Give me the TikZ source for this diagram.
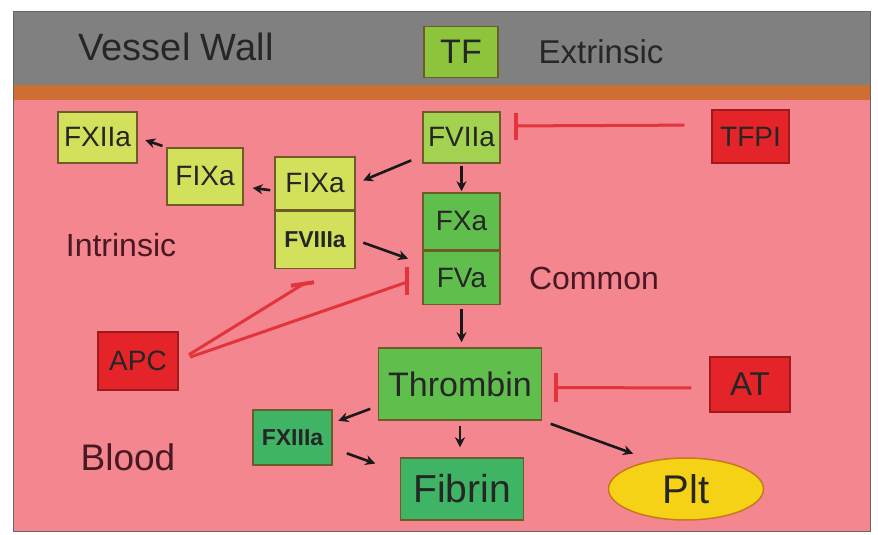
\documentclass[tikz,border=0pt]{standalone}
\usepackage{fontspec}
\setmainfont{Liberation Sans}
\usepackage{tikz}
\usetikzlibrary{arrows.meta,calc,positioning,shapes.geometric}

\definecolor{wallgray}{RGB}{128,128,128}
\definecolor{wallorange}{RGB}{206,110,50}
\definecolor{bloodpink}{RGB}{243,134,143}
\definecolor{paleyg}{RGB}{210,224,92}
\definecolor{lightgr}{RGB}{162,210,80}
\definecolor{tfgreen}{RGB}{140,196,60}
\definecolor{midgreen}{RGB}{96,190,76}
\definecolor{seagr}{RGB}{62,180,100}
\definecolor{inhred}{RGB}{228,36,40}
\definecolor{barred}{RGB}{226,52,58}
\definecolor{pltyellow}{RGB}{246,210,22}
\definecolor{pltedge}{RGB}{200,120,30}
\definecolor{boxedge}{RGB}{110,92,40}
\definecolor{maroon}{RGB}{74,24,34}

\tikzset{
  factor/.style={draw=boxedge, line width=1.5pt, inner sep=0pt, text=black!85,
    minimum width=78pt, minimum height=52pt, font=\fontsize{28}{30}\selectfont},
  smallbold/.style={font=\bfseries\fontsize{23}{25}\selectfont},
  inhibitor/.style={factor, fill=inhred, draw=inhred!70!black},
  region/.style={text=maroon, font=\fontsize{32}{34}\selectfont},
  act/.style={-{Stealth[length=10pt,width=10pt]}, line width=2.6pt, black!90},
  inhib/.style={draw=barred, line width=3pt},
  inhibbar/.style={draw=barred, line width=4pt}
}

\begin{document}
\begin{tikzpicture}[x=1pt,y=-1pt]
  \useasboundingbox (0,0) rectangle (878,535);
  % vessel wall and blood
  \fill[wallgray] (13,12) rectangle (870,85);
  \fill[wallorange] (13,85) rectangle (870,100);
  \fill[bloodpink] (13,100) rectangle (870,531);
  \draw[black!60, line width=1pt] (13,12) rectangle (870,531);

  % labels
  \node[text=black!85, font=\fontsize{38}{40}\selectfont] (wall) at (176,47) {Vessel Wall};
  \node[text=black!85, font=\fontsize{33}{35}\selectfont] (extr) at (601,52) {Extrinsic};
  \node[region] (intr) at (121,245) {Intrinsic};
  \node[region] (comm) at (594,278) {Common};
  \node[region, font=\fontsize{37}{39}\selectfont] (blood) at (128,457) {Blood};

  % factors
  \node[factor, fill=tfgreen, minimum width=74pt, minimum height=51pt,
    font=\fontsize{34}{36}\selectfont] (tf) at (461,52) {TF};
  \node[factor, fill=paleyg, minimum width=79pt, minimum height=51pt] (fxiia) at (97.5,137.5) {FXIIa};
  \node[factor, fill=paleyg, minimum width=76pt, minimum height=57pt] (fixa1) at (205,176.5) {FIXa};
  \node[factor, fill=paleyg, minimum width=80pt, minimum height=53pt] (fixa2) at (315,183.5) {FIXa};
  \node[factor, fill=paleyg, smallbold, minimum width=80pt, minimum height=57pt,
    below=0pt of fixa2] (fviiia) {FVIIIa};
  \node[factor, fill=lightgr, minimum width=77pt, minimum height=51pt] (fviia) at (461.5,137.5) {FVIIa};
  \node[factor, fill=midgreen, minimum width=77pt, minimum height=57pt] (fxa) at (461.5,221.5) {FXa};
  \node[factor, fill=midgreen, minimum width=77pt, minimum height=53pt,
    below=0pt of fxa] (fva) {FVa};
  \node[factor, fill=midgreen, minimum width=163pt, minimum height=72pt,
    font=\fontsize{34}{36}\selectfont] (thrombin) at (460,384) {Thrombin};
  \node[factor, fill=seagr, smallbold, minimum width=79pt, minimum height=55pt] (fxiiia) at (292.5,437.5) {FXIIIa};
  \node[factor, fill=seagr, minimum width=123pt, minimum height=62pt,
    font=\fontsize{39}{41}\selectfont] (fibrin) at (462,489) {Fibrin};
  \node[ellipse, draw=pltedge, line width=1.5pt, fill=pltyellow, inner sep=0pt,
    minimum width=155pt, minimum height=62pt, text=black!85,
    font=\fontsize{40}{42}\selectfont] (plt) at (686,489) {Plt};

  % inhibitors
  \node[inhibitor, minimum width=77pt, minimum height=53pt] (tfpi) at (750.5,136.5) {TFPI};
  \node[inhibitor, minimum width=80pt, minimum height=58pt] (apc) at (138,361) {APC};
  \node[inhibitor, minimum width=80pt, minimum height=55pt,
    font=\fontsize{33}{35}\selectfont] (at) at (750,384.5) {AT};

  % activation
  \draw[act, shorten <=12pt, shorten >=8pt] (fviia.205) -- (fixa2.east);
  \draw[act, shorten <=2pt, shorten >=1pt] (fviia) -- (fxa);
  \draw[act, shorten <=4pt, shorten >=9pt] (fixa2.190) -- (fixa1.-15);
  \draw[act, shorten <=4pt, shorten >=8pt] (fixa1.north west) -- (fxiia.east);
  \draw[act, shorten <=8pt, shorten >=15pt] (fviiia.east) -- (fva.160);
  \draw[act, shorten <=4pt, shorten >=5pt] (fva.south) -- (fva.south |- thrombin.north);
  \draw[act, shorten <=5pt, shorten >=10pt] (thrombin.south) -- (thrombin.south |- fibrin.north);
  \draw[act, shorten <=8pt, shorten >=6pt] (thrombin.195) -- (fxiiia.20);
  \draw[act, shorten <=15pt, shorten >=26pt] (fxiiia.-15) -- (fibrin.165);
  \draw[act, shorten <=9pt, shorten >=20pt] (thrombin.south east) -- (plt.140);

  % inhibition
  \draw[inhib, shorten <=27pt, shorten >=17pt] ([yshift=11.5pt]tfpi.west) -- ([yshift=11.5pt]fviia.east);
  \draw[inhibbar] ([shift={(15.5pt,25pt)}]fviia.east) -- ([shift={(15.5pt,-2pt)}]fviia.east);
  \draw[inhib, shorten <=18pt, shorten >=15pt] ([yshift=-3.5pt]at.west) -- ([yshift=-3.5pt]thrombin.east);
  \draw[inhibbar] ([shift={(14pt,11pt)}]thrombin.east) -- ([shift={(14pt,-18pt)}]thrombin.east);
  \draw[inhib, shorten <=12pt] (apc.east) -- ([shift={(-15pt,-4pt)}]fva.west);
  \draw[inhibbar] ([shift={(-15pt,11pt)}]fva.west) -- ([shift={(-15pt,-17pt)}]fva.west);
  \draw[inhib, shorten <=12pt] (apc.east) -- ([shift={(-12pt,-15pt)}]fviiia.south);
  \draw[inhibbar] ([shift={(-24pt,-16.5pt)}]fviiia.south) -- ([shift={(-1pt,-13pt)}]fviiia.south);
\end{tikzpicture}
\end{document}
